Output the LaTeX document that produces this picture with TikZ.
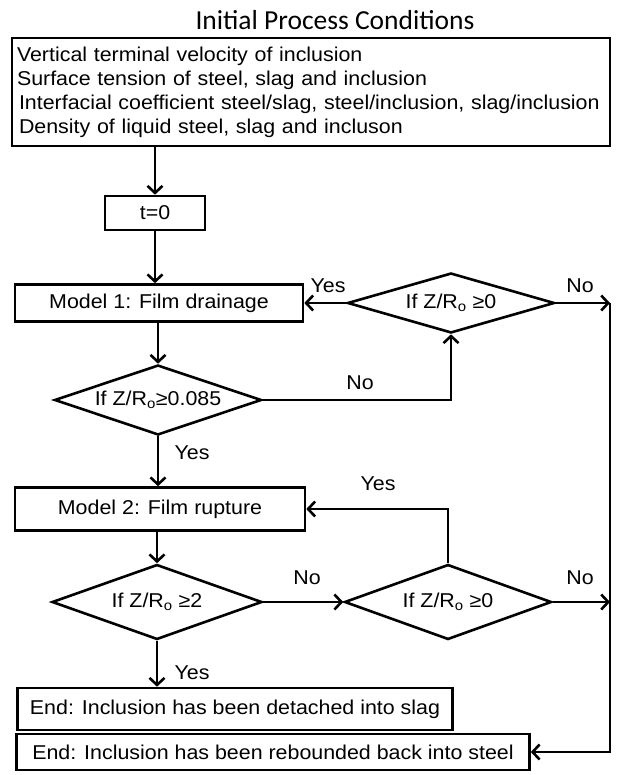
\documentclass[tikz,border=0pt]{standalone}
\usepackage{fontspec}
\setmainfont{Liberation Sans}[FakeStretch=1.07]
\newfontfamily\titlefont{Carlito}
\usetikzlibrary{shapes.geometric,arrows.meta}
\begin{document}
\begin{tikzpicture}[x=1pt,y=-1pt,line width=2.6pt,
  txt/.style={font=\fontsize{20}{24}\selectfont},
  box/.style={draw,rectangle,inner sep=0pt,txt},
  dia/.style={draw,diamond,inner sep=0pt},
  arr/.style={-{Straight Barb[length=7pt,width=15pt,line width=2.6pt]}},
  lbl/.style={txt,inner sep=0pt}]
\useasboundingbox (0,0) rectangle (622,775);
\node[inner sep=0pt,font=\titlefont\fontsize{27.5}{30}\selectfont] (title) at (335,20) {Initial Process Conditions};
\node[box,minimum width=598pt,minimum height=108pt,align=left,text width=588pt] (init) at (311,92)
 {Vertical terminal velocity of inclusion\\Surface tension of steel, slag and inclusion\\\hspace*{2pt}Interfacial coefficient steel/slag, steel/inclusion, slag/inclusion\\\hspace*{2pt}Density of liquid steel, slag and incluson};
\node[box,minimum width=100pt,minimum height=34pt] (t0) at (155,213) {t=0};
\node[box,minimum width=288pt,minimum height=37pt] (m1) at (159,303) {Model 1: Film drainage};
\node[dia,minimum width=207pt,minimum height=60pt] (d1) at (451,303) {};
\node[lbl] (d1t) at (d1.center) {If Z/R\textsubscript{o} ≥0};
\node[dia,minimum width=207pt,minimum height=70pt] (d2) at (158,400) {};
\node[lbl] (d2t) at (d2.center) {If Z/R\textsubscript{o}≥0.085};
\node[box,minimum width=290pt,minimum height=43pt] (m2) at (160,509) {Model 2: Film rupture};
\node[dia,minimum width=210pt,minimum height=75pt] (d3) at (157,602) {};
\node[lbl] (d3t) at (d3.center) {If Z/R\textsubscript{o} ≥2};
\node[dia,minimum width=207pt,minimum height=75pt] (d4) at (448,602) {};
\node[lbl] (d4t) at (d4.center) {If Z/R\textsubscript{o} ≥0};
\node[box,minimum width=435pt,minimum height=42pt] (e1) at (235,709) {End: Inclusion has been detached into slag};
\node[box,minimum width=513pt,minimum height=36pt] (e2) at (273,752) {End: Inclusion has been rebounded back into steel};
\coordinate (rt) at (610,303);
\coordinate (rb) at (610,752);
\coordinate (rm) at (610,602);
% main column
\draw[arr] (t0.north |- init.south) -- (t0.north);
\draw[arr] (t0.south) -- (t0.south |- m1.north);
\draw[arr] (d2.north |- m1.south) -- (d2.north);
\draw[arr] (d2.south) -- (d2.south |- m2.north);
\draw[arr] (d3.north |- m2.south) -- (d3.north);
\draw[arr] (d3.south) -- (d3.south |- e1.north);
% loops
\draw[arr] (d1.west) -- (m1.east);
\draw[arr] (d1.east) -- (rt);
\draw[arr] (d2.east) -| (d1.south);
\draw[arr] (d3.east) -- (d4.west);
\draw[arr] (d4.north) |- (m2.east);
\draw[arr] (d4.east) -- (rm);
\draw[arr] (rt) -- (rb) -- (e2.east);
% labels
\node[lbl] (l1) at (328,286) {Yes};
\node[lbl] (l2) at (580,286) {No};
\node[lbl] (l3) at (360,383) {No};
\node[lbl] (l4) at (192,453) {Yes};
\node[lbl] (l5) at (378,484) {Yes};
\node[lbl] (l6) at (307,578) {No};
\node[lbl] (l7) at (580,578) {No};
\node[lbl] (l8) at (192,673) {Yes};
\end{tikzpicture}
\end{document}
